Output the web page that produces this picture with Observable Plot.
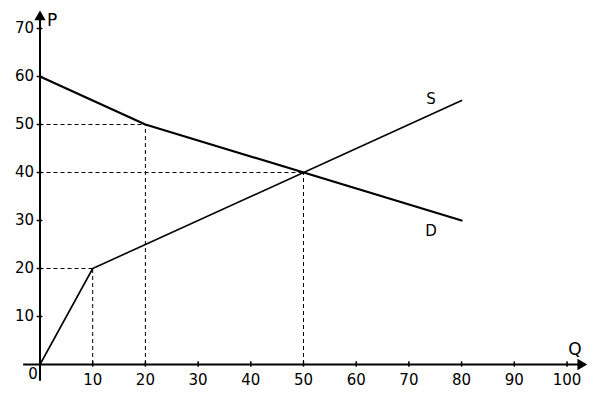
<!DOCTYPE html>
<html>
<head>
<meta charset="utf-8">
<script src="https://cdn.jsdelivr.net/npm/d3@7"></script>
<script src="https://cdn.jsdelivr.net/npm/@observablehq/plot@0.6"></script>
<style>
  html, body { margin: 0; padding: 0; background: #fff; }
</style>
</head>
<body>
<div id="chart"></div>
<script>
// Data
const supplyQ = [0, 10, 80];
const supplyP = [0, 20, 55];
const demandQ = [0, 20, 80];
const demandP = [60, 50, 30];
const guideQ = [10, 20, 50];
const guideP = [20, 50, 40];
const xTicks = [10, 20, 30, 40, 50, 60, 70, 80, 90, 100];
const yTicks = [10, 20, 30, 40, 50, 60, 70];
const curveLabels = ["S", "D"];
const curveLabelQ = [74.2, 74.2];
const curveLabelP = [55.3, 27.7];

const supply = supplyQ.map((q, i) => ({q, p: supplyP[i]}));
const demand = demandQ.map((q, i) => ({q, p: demandP[i]}));
const guides = guideQ.map((q, i) => ({q, p: guideP[i]}));
const labels = curveLabels.map((t, i) => ({t, q: curveLabelQ[i], p: curveLabelP[i]}));

const font = "DejaVu Sans, Verdana, sans-serif";

const chart = Plot.plot({
  width: 600,
  height: 400,
  marginLeft: 39.5,
  marginRight: 33.5,
  marginTop: 28,
  marginBottom: 36,
  style: {fontFamily: font, background: "#fff"},
  x: {domain: [0, 100], axis: null},
  y: {domain: [0, 70], axis: null},
  marks: [
    // dashed guides
    Plot.ruleX(guides, {x: "q", y1: 0, y2: "p", stroke: "#000", strokeWidth: 1, strokeDasharray: "4,3"}),
    Plot.ruleY(guides, {y: "p", x1: 0, x2: "q", stroke: "#000", strokeWidth: 1, strokeDasharray: "4,3"}),
    // axes
    Plot.ruleY([0], {x1: -3.1, x2: 102.5, stroke: "#000", strokeWidth: 2}),
    Plot.ruleX([0], {y1: -3.5, y2: 72.5, stroke: "#000", strokeWidth: 2}),
    Plot.dot([{q: 102.6, p: 0}], {x: "q", y: "p", symbol: "triangle", r: 4.2, fill: "#000", stroke: "none", rotate: 90}),
    Plot.dot([{q: 0, p: 72.4}], {x: "q", y: "p", symbol: "triangle", r: 4.2, fill: "#000", stroke: "none"}),
    // ticks
    Plot.ruleX(xTicks, {x: d => d, y1: -0.55, y2: 0.55, stroke: "#000", strokeWidth: 1.5}),
    Plot.ruleY(yTicks, {y: d => d, x1: -0.55, x2: 0.55, stroke: "#000", strokeWidth: 1.5}),
    // tick labels
    Plot.text(xTicks, {x: d => d, y: 0, text: d => String(d), dy: 16, fontSize: 15, fill: "#000"}),
    Plot.text(yTicks, {x: 0, y: d => d, text: d => String(d), dx: -6, textAnchor: "end", fontSize: 15, fill: "#000"}),
    Plot.text(["0"], {x: 0, y: 0, text: d => d, dx: -7, dy: 10, fontSize: 15, fill: "#000"}),
    // axis names
    Plot.text(["P"], {x: 0, y: 70, text: d => d, dx: 12, dy: -8, fontSize: 17, fill: "#000"}),
    Plot.text(["Q"], {x: 100, y: 0, text: d => d, dx: 8, dy: -15, fontSize: 17, fill: "#000"}),
    // curves
    Plot.line(demand, {x: "q", y: "p", stroke: "#000", strokeWidth: 2.2}),
    Plot.line(supply, {x: "q", y: "p", stroke: "#000", strokeWidth: 1.6}),
    Plot.text(labels, {x: "q", y: "p", text: "t", fontSize: 15, fill: "#000"})
  ]
});
document.getElementById("chart").appendChild(chart);
</script>
</body>
</html>
